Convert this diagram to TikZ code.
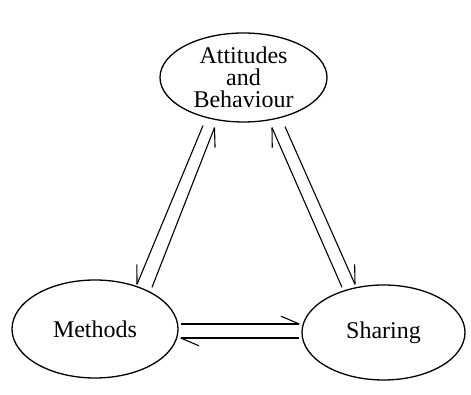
\documentclass[tikz,border=0pt]{standalone}
\usepackage{fontspec}
\setmainfont{Liberation Serif}
\usetikzlibrary{shapes.geometric,calc,decorations.markings}
\tikzset{
  oval/.style={ellipse, draw, line width=1.3pt, inner sep=0pt, align=center,
    font=\fontsize{24}{22}\selectfont},
  link/.style={line width=1.1pt},
  harpL/.style={link, decoration={markings, mark=at position 1 with {\draw[line width=1.1pt] (0pt,0pt) -- (-18.4pt,7.8pt);}}, postaction={decorate}},
  harpR/.style={link, decoration={markings, mark=at position 1 with {\draw[line width=1.1pt] (0pt,0pt) -- (-18.4pt,-7.8pt);}}, postaction={decorate}}
}
\begin{document}
\begin{tikzpicture}[x=1pt,y=1pt]
  \useasboundingbox[fill=white] (0,0) rectangle (471,395);
  \node[oval, minimum width=167pt, minimum height=89pt] (A) at (243.5,317.5) {Attitudes\\and\\Behaviour};
  \node[oval, minimum width=166pt, minimum height=98pt] (M) at (95,66) {Methods};
  \node[oval, minimum width=163pt, minimum height=95pt] (S) at (383.5,62.5) {Sharing};
  % left pair
  \draw[harpR] ($(A.south)+(-40.5,-3)$) -- ($(M.north)+(42,-5)$);
  \draw[harpR] ($(M.north)+(57,-8)$) -- ($(A.south)+(-29,-5)$);
  % right pair
  \draw[harpL] ($(S.north)+(-41.5,-3)$) -- ($(A.south)+(28.5,-5)$);
  \draw[harpL] ($(A.south)+(41.5,-4)$) -- ($(S.north)+(-28.5,0)$);
  % bottom pair
  \draw[harpL] ($(M.east)+(2,5)$) -- ($(S.west)+(-2,8.5)$);
  \draw[harpL] ($(S.west)+(-2,-5.5)$) -- ($(M.east)+(2,-9)$);
\end{tikzpicture}
\end{document}
